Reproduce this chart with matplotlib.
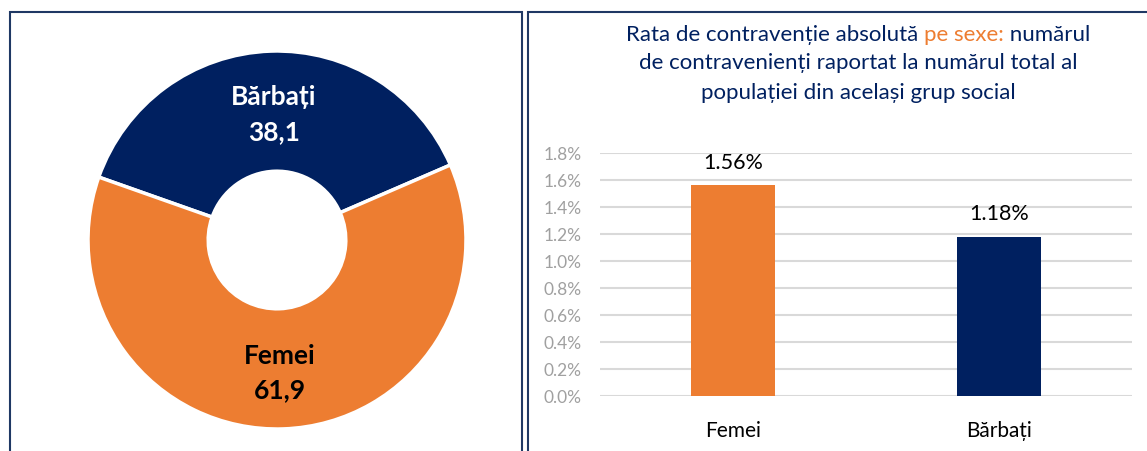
import matplotlib.pyplot as plt
from matplotlib.patches import Rectangle
from matplotlib.ticker import FuncFormatter

plt.rcParams['font.family'] = ['Lato', 'DejaVu Sans']

# date: ponderea pe sexe (donut)
donut_labels = ['Bărbați', 'Femei']
donut_values = [38.1, 61.9]
donut_text = ['38,1', '61,9']

# date: rata de contravenție (bare)
bar_labels = ['Femei', 'Bărbați']
bar_values = [1.56, 1.18]
y_ticks = [0.0, 0.2, 0.4, 0.6, 0.8, 1.0, 1.2, 1.4, 1.6, 1.8]

title_lines = [
    [('Rata de contravenție absolută ', '#002060'), ('pe sexe:', '#ED7D31'), (' numărul', '#002060')],
    [('de contravenienți raportat la numărul total al', '#002060')],
    [('populației din același grup social', '#002060')],
]

ORANGE = '#ED7D31'
NAVY = '#002060'
W, H = 1147, 452

fig = plt.figure(figsize=(W / 100, H / 100), dpi=100)

# chenare
fig.add_artist(Rectangle((9.5 / W, -0.05), 512 / W, 1.05 - 13 / H, transform=fig.transFigure,
                         fill=False, edgecolor='#1F3864', linewidth=1.5))
fig.add_artist(Rectangle((528 / W, -0.05), 1.0, 1.05 - 13 / H, transform=fig.transFigure,
                         fill=False, edgecolor='#1F3864', linewidth=1.5))

# --- donut ---
cx, cy, r = 277, 241, 189
ax1 = fig.add_axes([(cx - r) / W, (H - cy - r) / H, 2 * r / W, 2 * r / H])
ax1.pie(donut_values, colors=[NAVY, ORANGE], startangle=23.4, counterclock=True,
        radius=1.0, wedgeprops=dict(width=0.636, edgecolor='white', linewidth=2.5))
ax1.set_xlim(-1, 1)
ax1.set_ylim(-1, 1)
ax1.set_aspect('equal')
ax1.axis('off')

ax1.text(-0.016, 0.762, donut_labels[0], color='white', fontsize=19, fontweight='bold',
         ha='center', va='center')
ax1.text(-0.016, 0.577, donut_text[0], color='white', fontsize=19, fontweight='bold',
         ha='center', va='center')
ax1.text(0.016, -0.608, donut_labels[1], color='black', fontsize=19, fontweight='bold',
         ha='center', va='center')
ax1.text(0.016, -0.788, donut_text[1], color='black', fontsize=19, fontweight='bold',
         ha='center', va='center')

# --- bare ---
ax2 = fig.add_axes([600 / W, (H - 397) / H, 532 / W, 243 / H])
x = range(len(bar_labels))
bars = ax2.bar(x, bar_values, width=0.316, color=[ORANGE, NAVY], zorder=3)
ax2.set_xlim(-0.5, 1.5)
ax2.set_ylim(0, 1.8)
ax2.set_yticks(y_ticks)
ax2.yaxis.set_major_formatter(FuncFormatter(lambda v, p: f'{v:.1f}%'))
ax2.tick_params(axis='y', length=0, colors='#a0a0a0', labelsize=12.5, pad=13)
ax2.tick_params(axis='x', length=0, labelsize=15, pad=17)
ax2.set_xticks(list(x))
ax2.set_xticklabels(bar_labels)
ax2.grid(axis='y', color='#d9d9d9', linewidth=1.5, zorder=0)
for s in ax2.spines.values():
    s.set_visible(False)
for b, v in zip(bars, bar_values):
    ax2.text(b.get_x() + b.get_width() / 2, v + 0.1, f'{v:.2f}%', ha='center', va='bottom',
             fontsize=15.5, color='black')

# titlu cu culori mixte
renderer = fig.canvas.get_renderer()
title_y = [35, 63, 93]
for line, py in zip(title_lines, title_y):
    pieces = []
    for txt, col in line:
        t = fig.text(0, 1 - py / H, txt, color=col, fontsize=16, va='center', ha='left')
        pieces.append(t)
    widths = [p.get_window_extent(renderer).width for p in pieces]
    x0 = 858 - sum(widths) / 2
    for p, w in zip(pieces, widths):
        p.set_x(x0 / W)
        x0 += w

fig.savefig('out.png', dpi=100)
